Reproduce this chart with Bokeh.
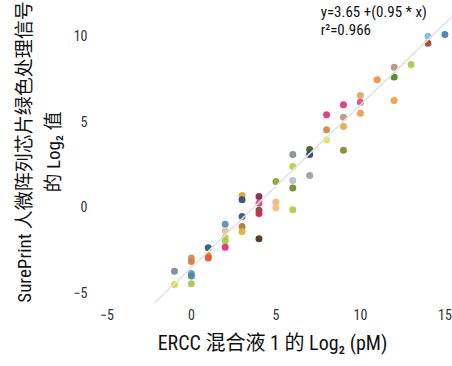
from bokeh.plotting import figure
from bokeh.models import FixedTicker, Label, Slope, Range1d
from bokeh.embed import file_html
from bokeh.resources import INLINE

# ---- data ----
x_vals = [-1, -1,
          0, 0, 0, 0, 0,
          1, 1, 1,
          2, 2, 2, 2, 2,
          3, 3, 3, 3, 3,
          4, 4, 4, 4, 4,
          5, 5, 5,
          6, 6, 6, 6, 6,
          7, 7, 7,
          8, 8, 8,
          9, 9, 9, 9,
          10, 10, 10,
          11,
          12, 12, 12,
          13,
          14, 14,
          15]
y_vals = [-3.76, -4.54,
          -3.0, -3.2, -3.9, -4.05, -4.5,
          -2.4, -2.85, -3.0,
          -1.03, -1.4, -1.8, -2.0, -2.36,
          0.66, 0.4, -0.57, -1.15, -1.45,
          0.6, 0.21, -0.2, -0.4, -1.87,
          0.27, -0.06, 1.48,
          3.05, 2.35, 1.53, 1.1, -0.18,
          3.34, 3.05, 1.83,
          3.9, 4.5, 5.37,
          3.29, 4.69, 5.23, 5.95,
          5.46, 6.1, 6.5,
          7.41,
          6.2, 7.57, 8.15,
          8.3,
          9.96, 9.55,
          10.06]
colors = ["#7d8d9a", "#d4dc3c",
          "#c8955a", "#d08040", "#6d9bb5", "#4a8aa0", "#a8c850",
          "#2f5f70", "#f08a30", "#e05a30",
          "#5a90c0", "#d8c8a0", "#c0d040", "#a8cc48", "#e03080",
          "#d4a838", "#34506c", "#3a5a7a", "#b08030", "#e0b040",
          "#8a2848", "#e84888", "#6a5a30", "#c82850", "#4a3820",
          "#f0b878", "#f0c080", "#8aa838",
          "#8a9098", "#b8d048", "#b8c0c8", "#6a9030", "#a8d040",
          "#4a5a30", "#2a4a6a", "#9aa0a8",
          "#e8e060", "#d88840", "#e03878",
          "#8a8a30", "#f0a848", "#b89a80", "#e03880",
          "#f0a040", "#e04888", "#e0a860",
          "#f09040",
          "#f0a040", "#4a8a2a", "#b09a80",
          "#a0cc50",
          "#8ab8e0", "#a04830",
          "#4a80b8"]
fit_slope = 0.95
fit_intercept = -3.55
eq_text = "y=3.65 +(0.95 * x)"
r2_text = "r\u00b2=0.966"
x_ticks = [-5, 0, 5, 10, 15]
y_ticks = [-5, 0, 5, 10]
x_label = "ERCC 混合液 1 的 Log\u2082 (pM)"
y_label = "SurePrint 人微阵列芯片绿色处理信号\n的 Log\u2082 值"

FONT = "Roboto Condensed, Roboto, Noto Sans CJK SC, sans-serif"

p = figure(width=452, height=366, output_backend="svg", toolbar_location=None,
           x_range=Range1d(-5.85, 15.45), y_range=Range1d(-5.65, 12.04),
           min_border_left=92, min_border_right=0, min_border_top=0,
           min_border_bottom=63)
p.outline_line_color = None
p.grid.visible = False
p.background_fill_color = "white"

p.add_layout(Slope(gradient=fit_slope, y_intercept=fit_intercept,
                   line_color="#dfe2ea", line_width=1.5))

p.scatter(x_vals, y_vals, size=7, fill_color=colors, line_color=None, fill_alpha=0.95)

for ax, ticks in ((p.xaxis, x_ticks), (p.yaxis, y_ticks)):
    ax.ticker = FixedTicker(ticks=ticks)
    ax.major_label_overrides = {t: (str(t).replace("-", "\u2212")) for t in ticks}
    ax.axis_line_color = None
    ax.major_tick_line_color = None
    ax.minor_tick_line_color = None
    ax.major_tick_out = 0
    ax.major_tick_in = 0
    ax.major_label_text_font = FONT
    ax.major_label_text_font_size = "14px"
    ax.major_label_text_color = "#333333"
    ax.axis_label_text_font = FONT
    ax.axis_label_text_font_style = "normal"
    ax.axis_label_text_color = "#111111"
    ax.major_label_standoff = 5

p.xaxis.axis_label = x_label
p.xaxis.axis_label_text_font_size = "20px"
p.xaxis.axis_label_standoff = 8
p.yaxis.axis_label = y_label
p.yaxis.axis_label_text_font_size = "19px"
p.yaxis.axis_label_standoff = 6
p.yaxis.axis_label_text_line_height = 1.25

p.add_layout(Label(x=7.65, y=11.34, text=eq_text, text_font=FONT,
                   text_font_size="15px", text_color="#111111", text_baseline="middle"))
p.add_layout(Label(x=7.65, y=10.29, text=r2_text, text_font=FONT,
                   text_font_size="15px", text_color="#111111", text_baseline="middle"))

open("out.html", "w").write(file_html(p, INLINE))
